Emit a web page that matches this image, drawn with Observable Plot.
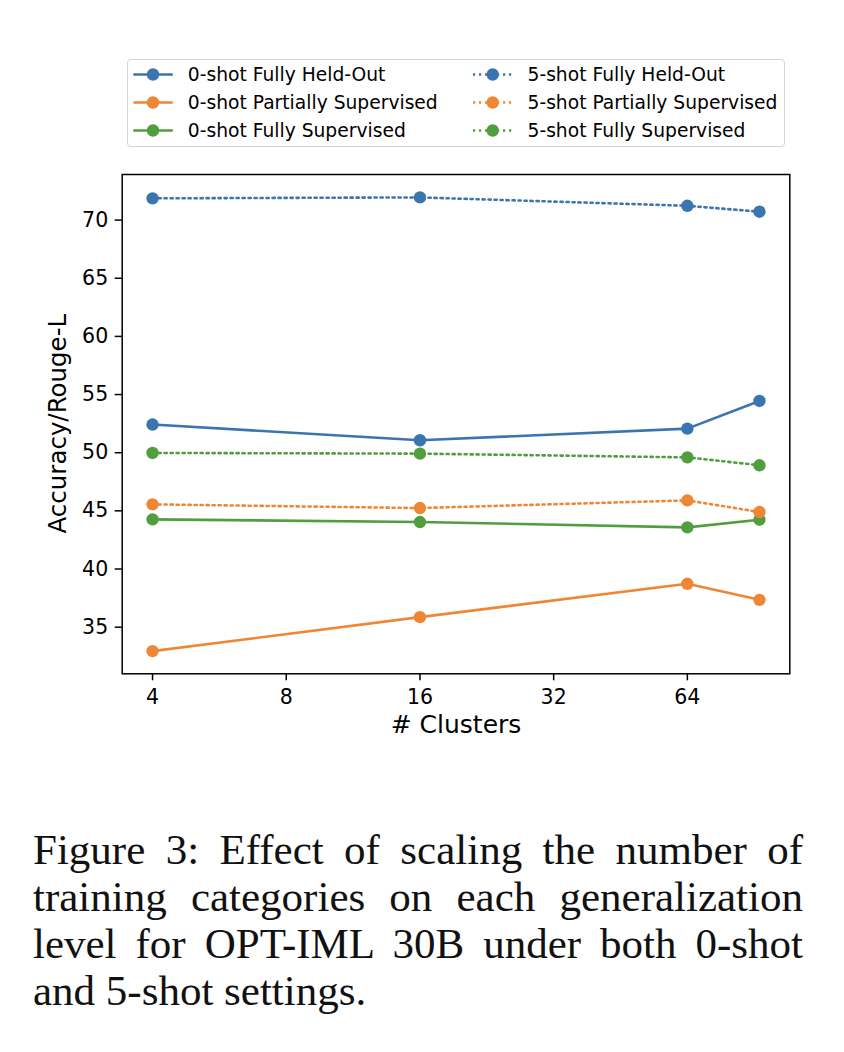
<!DOCTYPE html>
<html>
<head>
<meta charset="utf-8">
<script src="https://cdn.jsdelivr.net/npm/d3@7"></script>
<script src="https://cdn.jsdelivr.net/npm/@observablehq/plot@0.6"></script>
<style>
  html, body { margin: 0; padding: 0; background: #fff; }
  #wrap { position: relative; width: 844px; height: 1052px; overflow: hidden; }
  #chart { position: absolute; left: 0; top: 0; }
  #legend { position: absolute; left: 127px; top: 59px; width: 656px; height: 86px;
            border: 1.5px solid #d3d3d3; border-radius: 4px; background: #fff; }
  #caption { position: absolute; left: 33px; top: 826px; width: 770px;
             font-family: "Liberation Serif", "DejaVu Serif", serif; font-size: 43px;
             line-height: 47px; color: #111; }
  #caption div { text-align: justify; text-align-last: justify; white-space: nowrap; }
  #caption div.last { text-align-last: left; }
</style>
</head>
<body>
<div id="wrap">
  <div id="chart"></div>
  <div id="legend"></div>
  <div id="caption"></div>
</div>
<script>
// ---- data ----
const clusters = [4, 16, 64, 93];
const xTicks = [4, 8, 16, 32, 64];
const yTicks = [35, 40, 45, 50, 55, 60, 65, 70];
const seriesNames = [
  "0-shot Fully Held-Out",
  "0-shot Partially Supervised",
  "0-shot Fully Supervised",
  "5-shot Fully Held-Out",
  "5-shot Partially Supervised",
  "5-shot Fully Supervised"
];
const zeroShotHeldOut    = [52.42, 51.07, 52.07, 54.45];
const zeroShotPartial    = [32.94, 35.86, 38.73, 37.35];
const zeroShotFull       = [44.27, 44.04, 43.58, 44.24];
const fiveShotHeldOut    = [71.87, 71.95, 71.23, 70.72];
const fiveShotPartial    = [45.56, 45.24, 45.90, 44.90];
const fiveShotFull       = [49.98, 49.92, 49.60, 48.92];
const seriesValues = [zeroShotHeldOut, zeroShotPartial, zeroShotFull, fiveShotHeldOut, fiveShotPartial, fiveShotFull];
const seriesColors = ["#3b75af", "#ef8636", "#519e3e", "#3b75af", "#ef8636", "#519e3e"];
const seriesDotted = [false, false, false, true, true, true];
const xLabel = "# Clusters";
const yLabel = "Accuracy/Rouge-L";
const captionLines = [
  "Figure 3:  Effect of scaling the number of",
  "training categories on each generalization",
  "level for OPT-IML 30B under both 0-shot",
  "and 5-shot settings."
];

// ---- build table ----
const rows = [];
seriesNames.forEach((name, i) => {
  seriesValues[i].forEach((v, j) => rows.push({series: name, idx: i, x: clusters[j], y: v}));
});

const LW = 2.6;
const DLW = 2.6;
const DASH = "2.2,3.8";
const marks = [];
seriesNames.forEach((name, i) => {
  const d = rows.filter(r => r.idx === i);
  marks.push(Plot.line(d, {x: "x", y: "y", stroke: seriesColors[i], strokeWidth: seriesDotted[i] ? DLW : LW,
    strokeDasharray: seriesDotted[i] ? DASH : null}));
  marks.push(Plot.dot(d, {x: "x", y: "y", r: 6.2, fill: seriesColors[i], stroke: "none"}));
});

const chart = Plot.plot({
  width: 844,
  height: 760,
  marginLeft: 121.7,
  marginRight: 54.7,
  marginTop: 174,
  marginBottom: 86.7,
  style: {fontFamily: "DejaVu Sans", fontSize: "20px", color: "#000", background: "transparent"},
  x: {type: "log", base: 2, domain: [Math.pow(2, 1.77304), Math.pow(2, 6.76616)]},
  y: {domain: [30.99, 73.92]},
  marks: [
    ...marks,
    Plot.frame({stroke: "#000", strokeWidth: 1.5}),
    Plot.axisX({ticks: xTicks, tickFormat: d => String(d), tickSize: 7, tickPadding: 9, fontSize: 20.5, strokeWidth: 1.5, label: null}),
    Plot.axisY({ticks: yTicks, tickSize: 7, tickPadding: 7, fontSize: 20.5, strokeWidth: 1.5, label: null}),
    Plot.text([xLabel], {text: d => d, frameAnchor: "bottom", dy: 50.7, fontSize: 25, lineAnchor: "middle", fill: "#000"})
  ]
});
document.getElementById("chart").appendChild(chart);

// y-axis title, centred on the plot frame
d3.select(chart).append("text")
  .attr("transform", `translate(57,${(174 + 760 - 86.7) / 2}) rotate(-90)`)
  .attr("text-anchor", "middle")
  .attr("dy", "0.35em")
  .attr("font-family", "DejaVu Sans")
  .attr("font-size", 24.5)
  .attr("fill", "#000")
  .text(yLabel);

// ---- legend ----
const legend = d3.select("#legend").append("svg")
  .attr("width", 656).attr("height", 86)
  .style("position", "absolute").style("left", "0px").style("top", "0px")
  .style("font-family", "DejaVu Sans").style("font-size", "18.7px");
const colX = [5.3, 345];
const rowY = [14.5, 42.5, 70.5];
seriesNames.forEach((name, i) => {
  const col = Math.floor(i / 3), row = i % 3;
  const x0 = colX[col], y0 = rowY[row];
  const g = legend.append("g").attr("transform", `translate(${x0},${y0})`);
  g.append("line").attr("x1", 0).attr("x2", 39.5).attr("y1", 0).attr("y2", 0)
    .attr("stroke", seriesColors[i]).attr("stroke-width", seriesDotted[i] ? DLW : LW)
    .attr("stroke-dasharray", seriesDotted[i] ? DASH : null);
  g.append("circle").attr("cx", 19.7).attr("cy", 0).attr("r", 6.2).attr("fill", seriesColors[i]);
  g.append("text").attr("x", 54.5).attr("y", 0).attr("dy", "0.35em").attr("fill", "#000").text(name);
});

// ---- caption ----
const cap = d3.select("#caption");
captionLines.forEach((t, i) => {
  cap.append("div").attr("class", i === captionLines.length - 1 ? "last" : null).text(t);
});
</script>
</body>
</html>
